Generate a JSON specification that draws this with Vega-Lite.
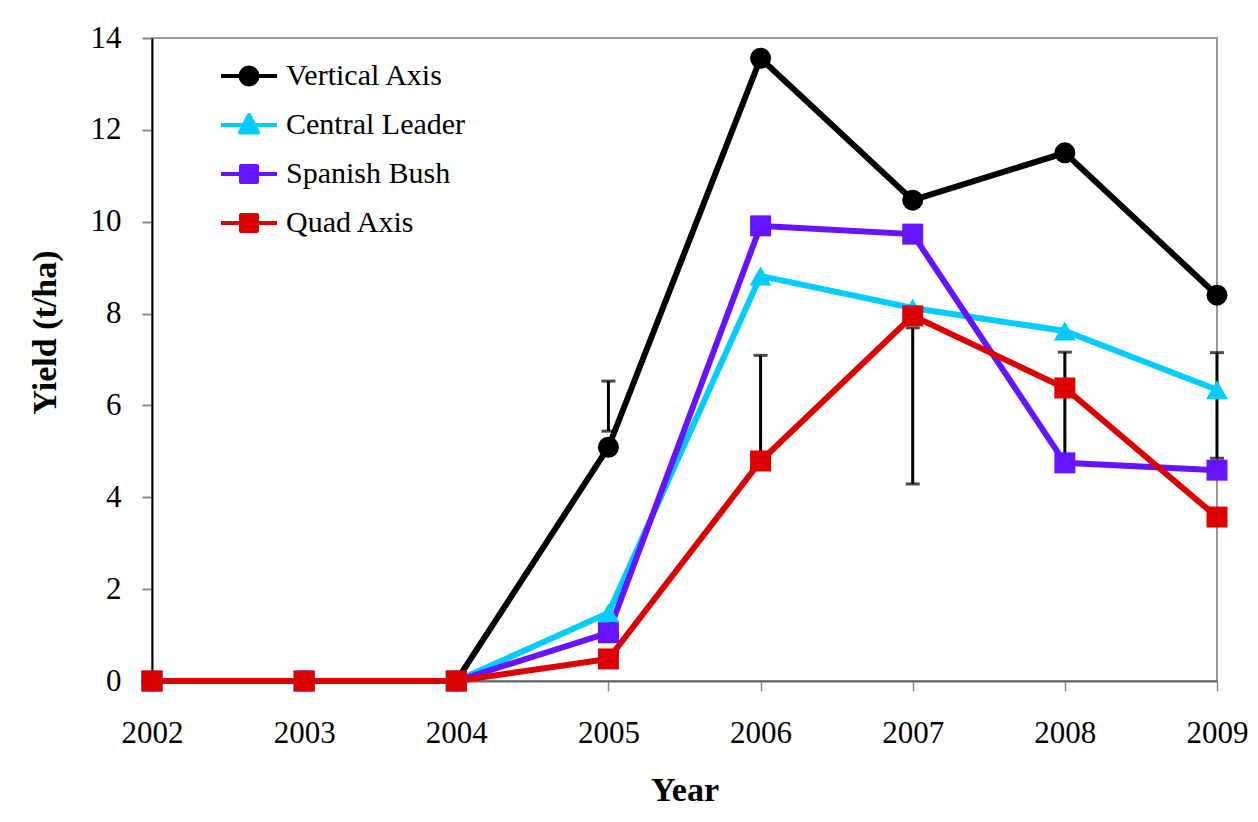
{
  "$schema": "https://vega.github.io/schema/vega-lite/v6.json",
  "width": 1065,
  "height": 643,
  "autosize": {"type": "none"},
  "padding": {"left": 152, "top": 38, "right": 41, "bottom": 141},
  "background": "white",
  "config": {
    "view": {"stroke": "#999999", "strokeWidth": 2},
    "font": "Liberation Serif",
    "axis": {"grid": false, "labelFont": "Liberation Serif", "titleFont": "Liberation Serif", "labelColor": "black", "titleColor": "black"},
    "legend": {"labelFont": "Liberation Serif"}
  },
  "datasets": {
    "series": [
      {"year": 2002, "series": "Vertical Axis", "yield": 0},
      {"year": 2003, "series": "Vertical Axis", "yield": 0},
      {"year": 2004, "series": "Vertical Axis", "yield": 0},
      {"year": 2005, "series": "Vertical Axis", "yield": 5.09},
      {"year": 2006, "series": "Vertical Axis", "yield": 13.56},
      {"year": 2007, "series": "Vertical Axis", "yield": 10.47},
      {"year": 2008, "series": "Vertical Axis", "yield": 11.5},
      {"year": 2009, "series": "Vertical Axis", "yield": 8.4},
      {"year": 2002, "series": "Central Leader", "yield": 0},
      {"year": 2003, "series": "Central Leader", "yield": 0},
      {"year": 2004, "series": "Central Leader", "yield": 0},
      {"year": 2005, "series": "Central Leader", "yield": 1.48},
      {"year": 2006, "series": "Central Leader", "yield": 8.82},
      {"year": 2007, "series": "Central Leader", "yield": 8.12},
      {"year": 2008, "series": "Central Leader", "yield": 7.62},
      {"year": 2009, "series": "Central Leader", "yield": 6.34},
      {"year": 2002, "series": "Spanish Bush", "yield": 0},
      {"year": 2003, "series": "Spanish Bush", "yield": 0},
      {"year": 2004, "series": "Spanish Bush", "yield": 0},
      {"year": 2005, "series": "Spanish Bush", "yield": 1.05},
      {"year": 2006, "series": "Spanish Bush", "yield": 9.91},
      {"year": 2007, "series": "Spanish Bush", "yield": 9.73},
      {"year": 2008, "series": "Spanish Bush", "yield": 4.75},
      {"year": 2009, "series": "Spanish Bush", "yield": 4.59},
      {"year": 2002, "series": "Quad Axis", "yield": 0},
      {"year": 2003, "series": "Quad Axis", "yield": 0},
      {"year": 2004, "series": "Quad Axis", "yield": 0},
      {"year": 2005, "series": "Quad Axis", "yield": 0.48},
      {"year": 2006, "series": "Quad Axis", "yield": 4.79},
      {"year": 2007, "series": "Quad Axis", "yield": 7.95},
      {"year": 2008, "series": "Quad Axis", "yield": 6.38},
      {"year": 2009, "series": "Quad Axis", "yield": 3.57}
    ],
    "errors": [
      {"year": 2005, "low": 5.44, "high": 6.53},
      {"year": 2006, "low": 4.85, "high": 7.09},
      {"year": 2007, "low": 4.29, "high": 7.69},
      {"year": 2008, "low": 4.8, "high": 7.16},
      {"year": 2009, "low": 4.85, "high": 7.15}
    ]
  },
  "encoding": {
    "x": {
      "field": "year", "type": "quantitative",
      "scale": {"domain": [2002, 2009], "nice": false, "zero": false},
      "axis": {
        "values": [2002, 2003, 2004, 2005, 2006, 2007, 2008, 2009],
        "format": "d",
        "title": "Year",
        "titleFontSize": 34, "titleFontWeight": "bold",
        "titleBaseline": "alphabetic", "titleY": 119,
        "labelFontSize": 31, "labelBaseline": "alphabetic", "labelPadding": 51,
        "tickSize": 10, "tickColor": "#888888", "tickWidth": 1.5,
        "domainColor": "#666666", "domainWidth": 2,
        "labelOverlap": false, "labelFlush": false
      }
    }
  },
  "layer": [
    {
      "data": {"name": "errors"},
      "mark": {"type": "rule", "color": "black", "strokeWidth": 3},
      "encoding": {
        "y": {"field": "low", "type": "quantitative",
          "scale": {"domain": [0, 14], "nice": false},
          "axis": {
            "values": [0, 2, 4, 6, 8, 10, 12, 14],
            "title": "Yield (t/ha)",
            "titleFontSize": 34, "titleFontWeight": "bold",
            "titleBaseline": "alphabetic", "titleX": -97, "titleY": 294, "titleAngle": -90,
            "labelFontSize": 31, "labelPadding": 21,
            "tickSize": 10, "tickColor": "#888888", "tickWidth": 2,
            "domainColor": "black", "domainWidth": 2
          }
        },
        "y2": {"field": "high"}
      }
    },
    {
      "data": {"name": "errors"},
      "mark": {"type": "tick", "orient": "horizontal", "color": "black", "size": 14, "thickness": 3},
      "encoding": {"y": {"field": "high", "type": "quantitative"}}
    },
    {
      "data": {"name": "errors"},
      "mark": {"type": "tick", "orient": "horizontal", "color": "black", "size": 14, "thickness": 3},
      "encoding": {"y": {"field": "low", "type": "quantitative"}}
    },
    {
      "data": {"name": "series"},
      "mark": {"type": "line", "strokeWidth": 6},
      "encoding": {
        "y": {"field": "yield", "type": "quantitative"},
        "color": {
          "field": "series", "type": "nominal",
          "scale": {"domain": ["Vertical Axis", "Central Leader", "Spanish Bush", "Quad Axis"],
                    "range": ["#000000", "#00CCFF", "#6614FF", "#DD0000"]},
          "legend": {
            "title": null,
            "orient": "none", "legendX": 82, "legendY": 23,
            "labelFontSize": 30, "labelColor": "black", "labelLimit": 0,
            "symbolSize": 400, "symbolStrokeWidth": 4,
            "labelOffset": 22, "rowPadding": 19, "padding": 0,
            "encode": {
              "symbols": {
                "update": {
                  "shape": {"signal": "datum.value === 'Vertical Axis' ? 'M-2.8,0H2.8M0.85,0L0.785,0.325L0.601,0.601L0.325,0.785L0,0.85L-0.325,0.785L-0.601,0.601L-0.785,0.325L-0.85,0L-0.785,-0.325L-0.601,-0.601L-0.325,-0.785L0,-0.85L0.325,-0.785L0.601,-0.601L0.785,-0.325Z' : datum.value === 'Central Leader' ? 'M-2.8,0H2.8M0,-1.0L0.9,0.75L-0.9,0.75Z' : 'M-2.8,0H2.8M-0.8,-0.8H0.8V0.8H-0.8Z'"},
                  "fill": {"signal": "scale('color', datum.value)"},
                  "stroke": {"signal": "scale('color', datum.value)"},
                  "strokeWidth": {"value": 4},
                  "strokeJoin": {"value": "round"},
                  "opacity": {"value": 1}
                }
              }
            }
          }
        },
        "order": {"field": "year"}
      }
    },
    {
      "data": {"name": "series"},
      "transform": [{"filter": "datum.series === 'Vertical Axis'"}],
      "mark": {"type": "point", "shape": "circle", "filled": true, "opacity": 1, "size": 441},
      "encoding": {
        "y": {"field": "yield", "type": "quantitative"},
        "color": {"field": "series", "type": "nominal", "legend": null}
      }
    },
    {
      "data": {"name": "series"},
      "transform": [{"filter": "datum.series === 'Central Leader'"}],
      "mark": {"type": "point", "shape": "triangle-up", "filled": true, "opacity": 1, "size": 484},
      "encoding": {
        "y": {"field": "yield", "type": "quantitative"},
        "color": {"field": "series", "type": "nominal", "legend": null}
      }
    },
    {
      "data": {"name": "series"},
      "transform": [{"filter": "datum.series === 'Spanish Bush' || datum.series === 'Quad Axis'"}],
      "mark": {"type": "point", "shape": "square", "filled": true, "opacity": 1, "size": 441},
      "encoding": {
        "y": {"field": "yield", "type": "quantitative"},
        "color": {"field": "series", "type": "nominal", "legend": null}
      }
    }
  ]
}
